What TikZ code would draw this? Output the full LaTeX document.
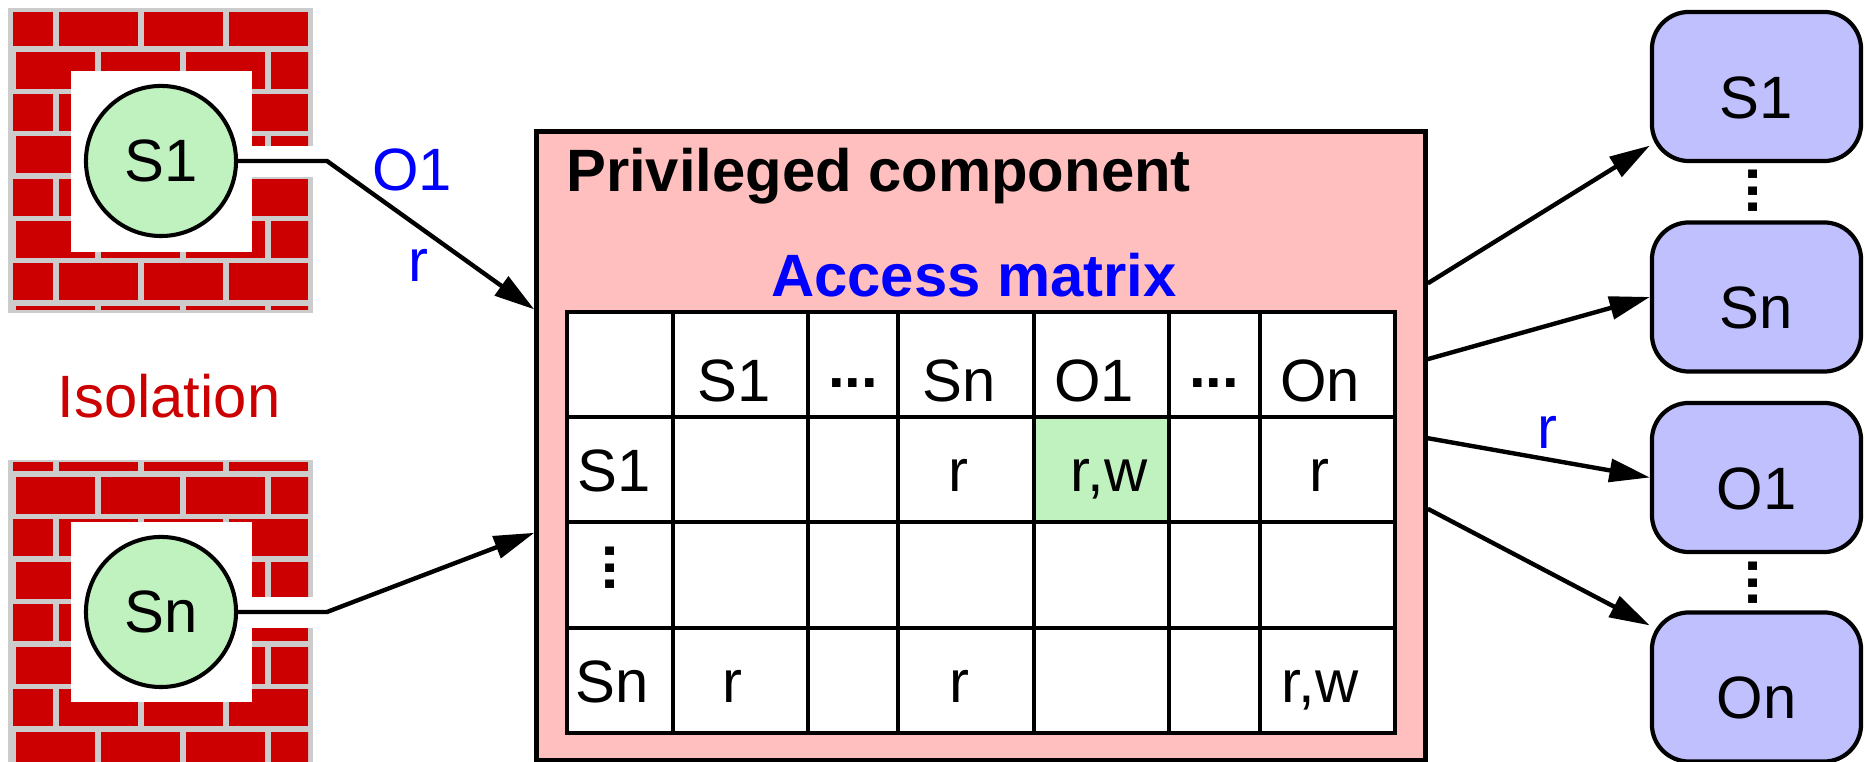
\documentclass[tikz,border=0pt]{standalone}
\usepackage{fontspec}
\setmainfont{Liberation Sans}
\usetikzlibrary{arrows.meta}

\definecolor{brickred}{RGB}{204,0,0}
\definecolor{mortar}{RGB}{204,204,204}
\definecolor{subjgreen}{RGB}{192,242,192}
\definecolor{privpink}{RGB}{255,191,191}
\definecolor{objblue}{RGB}{192,192,255}

\begin{document}
\begin{tikzpicture}[x=0.01cm, y=-0.01cm,
    every node/.style={font=\fontsize{17}{20}\selectfont},
    subj/.style={circle, draw, fill=subjgreen, line width=1.15pt, minimum size=1.5cm, inner sep=0pt},
    obj/.style={draw, fill=objblue, rounded corners=0.37cm, line width=1.2pt,
      minimum width=2.09cm, minimum height=1.49cm, text height=18pt, text depth=0pt},
    priv/.style={draw, fill=privpink, line width=1.4pt, minimum width=8.88cm, minimum height=6.28cm, inner sep=0pt},
    cell/.style={anchor=base, inner sep=0pt},
    dotrow/.style={inner sep=0pt, font=\fontsize{17}{20}\selectfont\bfseries},
    lbl/.style={text=blue, inner sep=0pt},
    bold/.style={inner sep=0pt, font=\fontsize{17}{20}\selectfont\bfseries},
    mline/.style={line width=1.15pt},
    arr/.style={line width=1.25pt, -{Triangle[length=11.5pt,width=6.5pt]}}]
  \useasboundingbox (0,0) rectangle (1865,762);

  % brick walls
  \begin{scope}
    \fill[mortar] (8,8) rectangle (313,313);
    \clip (13,13) rectangle (308,310);
    \foreach \by in {0,...,7} {
      \pgfmathsetmacro{\off}{mod(\by,2)==1 ? 16 : -26}
      \foreach \bx in {0,...,3}
        \fill[brickred] ({\off+85*\bx},{9.5+42.3*\by}) rectangle +(79,37);
    }
  \end{scope}
  \fill[white] (71,71) rectangle (252,252);
  \fill[white] (252,146) rectangle (320,177);

  \begin{scope}
    \fill[mortar] (8,460) rectangle (313,775);
    \clip (13,463) rectangle (308,775);
    \foreach \by in {0,...,8} {
      \pgfmathsetmacro{\off}{mod(\by,2)==1 ? 16 : -26}
      \foreach \bx in {0,...,3}
        \fill[brickred] ({\off+85*\bx},{434.5+42.5*\by}) rectangle +(79,37);
    }
  \end{scope}
  \fill[white] (71,522) rectangle (252,702);
  \fill[white] (252,597) rectangle (320,628);

  % subjects
  \node[subj] (s1) at (161,161) {S1};
  \node[subj] (sn) at (161,612) {Sn};
  \node[text=brickred, inner sep=0pt] (iso) at (169,396) {Isolation};

  % privileged component with the access matrix
  \node[priv] (pc) at (981,446) {};
  \node[bold, anchor=base west] (pctitle) at (565.5,192) {Privileged component};
  \node[bold, anchor=base, text=blue] (amtitle) at (974,297) {Access matrix};

  \fill[white] (567,312) rectangle (1395,733);
  \fill[subjgreen] (1034,417) rectangle (1169,522);
  \foreach \x in {673,808,898,1034,1169,1260}
    \draw[mline] (\x,312) -- (\x,733);
  \foreach \y in {417,522,628}
    \draw[mline] (567,\y) -- (1395,\y);
  \draw[mline] (567,312) rectangle (1395,733);

  \node[cell] (m01) at (734,402) {S1};
  \node[dotrow] (m02) at (853,383) {...};
  \node[cell] (m03) at (959,402) {Sn};
  \node[cell] (m04) at (1094,402) {O1};
  \node[dotrow] (m05) at (1214,383) {...};
  \node[cell] (m06) at (1320,402) {On};

  \node[cell] (m10) at (614,492) {S1};
  \node[cell] (m13) at (958,492) {r};
  \node[cell] (m14) at (1109,492) {r,w};
  \node[cell] (m16) at (1319,492) {r};

  \node[dotrow, rotate=90] (m20) at (610,568) {...};

  \node[cell] (m30) at (612,703) {Sn};
  \node[cell] (m31) at (732,703) {r};
  \node[cell] (m33) at (959,703) {r};
  \node[cell] (m36) at (1320,703) {r,w};

  % subjects and objects outside
  \node[obj] (res1) at (1756.5,86.5) {S1};
  \node[obj] (resn) at (1756.5,297) {Sn};
  \node[obj] (reo1) at (1756.5,477.5) {O1};
  \node[obj] (reon) at (1756.5,687) {On};
  \node[dotrow, rotate=90] (rd1) at (1753,191) {...};
  \node[dotrow, rotate=90] (rd2) at (1753,583) {...};

  % requests
  \coordinate (k1) at (327,161);
  \coordinate (kn) at (327,612);
  \draw[arr] (s1.east) -- (k1) -- (pc.163);
  \draw[arr] (sn.east) -- (kn) -- (pc.191.7);
  \node[lbl, anchor=base] (req) at (412,191) {O1};
  \node[lbl, anchor=base] (reqr) at (418,282) {r};

  \draw[arr] (pc.20.5) -- (res1.209.6);
  \draw[arr] (pc.11.5) -- (resn.west);
  \draw[arr] (pc.1.7) -- node[lbl, pos=0.54, above=2.5pt] (acc) {r} (reo1.west);
  \draw[arr] (pc.-8) -- (reon.150.6);
\end{tikzpicture}
\end{document}
